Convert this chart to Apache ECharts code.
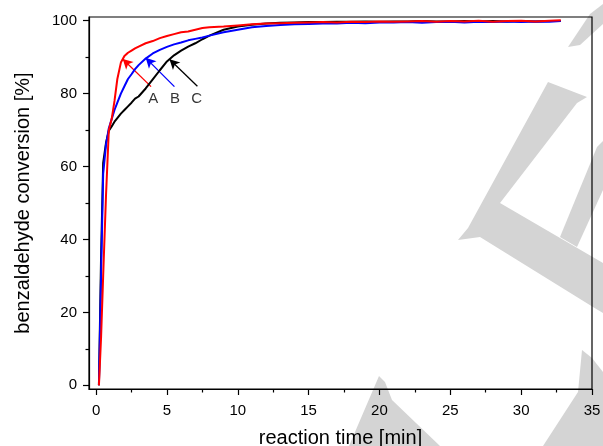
<!DOCTYPE html>
<html>
<head>
<meta charset="utf-8">
<script src="https://cdn.jsdelivr.net/npm/echarts@6/dist/echarts.min.js"></script>
<style>html,body{margin:0;padding:0;background:#fff}#c{width:603px;height:446px}</style>
</head>
<body>
<div id="c"></div>
<script>
// ---- data ----
const time = [0.2,0.35,0.5,0.7,0.9,1.1,1.3,1.5,1.75,2.0,2.25,2.5,2.75,3.0,3.5,4.0,4.5,5.0,5.5,6.0,6.5,7.0,7.5,8.0,9,10,11,12,13,14,15,16,17,18,19,20,21,22,23,24,25,26,27,28,29,30,31,32,32.8];
const seriesA = [0,13,30,52,70,73,78,84,88.5,90.3,91.2,91.8,92.4,92.9,93.8,94.4,95.2,95.8,96.3,96.8,97.0,97.5,98.0,98.2,98.4,98.7,99.0,99.2,99.3,99.4,99.5,99.6,99.5,99.7,99.6,99.8,99.7,99.8,99.9,99.7,99.9,99.8,100.0,99.7,99.9,100.0,99.8,100.0,100.1];
const seriesB = [0,30,58,66,70.5,73,75.5,77.5,80,82,84,85.3,86.7,87.8,89.6,91,92,92.8,93.5,94,94.6,95.0,95.4,95.9,96.8,97.5,98.2,98.5,98.8,99.0,99.1,99.2,99.2,99.4,99.3,99.5,99.5,99.6,99.4,99.6,99.7,99.5,99.7,99.6,99.8,99.6,99.8,99.7,99.9];
const seriesC = [0,35,61,66.5,69.8,71,72.3,73.3,74.5,75.5,76.5,77.5,78.6,79.2,81.4,83.9,86.4,88.8,90.5,91.8,92.9,93.8,94.9,95.9,97.5,98.4,98.9,99.2,99.4,99.5,99.6,99.6,99.7,99.7,99.8,99.7,99.8,99.8,99.9,99.8,99.8,99.9,99.8,99.9,99.8,99.9,99.8,99.9,99.9];
const seriesNames = ['A','B','C'];
const seriesColors = ['#ff0000','#0000ff','#000000'];
// annotation arrows: [startX, startY, tipX, tipY]
const arrows = [[3.88,81.9,1.88,89.5],[5.53,81.9,3.5,89.8],[7.15,82.0,5.18,89.4]];
const labelPos = [[4.04,78.6],[5.57,78.6],[7.1,78.6]];
const xTicks = [0,5,10,15,20,25,30,35];
const xMinorTicks = [2.5,7.5,12.5,17.5,22.5,27.5,32.5];
const yTicks = [0,20,40,60,80,100];
const yMinorTicks = [10,30,50,70,90];
const xTitle = 'reaction time [min]';
const yTitle = 'benzaldehyde conversion [%]';

const FONT = "'Liberation Sans', Arial, sans-serif";
const chart = echarts.init(document.getElementById('c'), null, {renderer:'canvas'});

const allSeries = [seriesA, seriesB, seriesC];
const zOrder = [7, 6, 5];
const series = allSeries.map((vals, i) => ({
  type: 'line',
  name: seriesNames[i],
  xAxisIndex: 0, yAxisIndex: 0,
  data: time.map((t, k) => [t, vals[k]]),
  showSymbol: false,
  symbol: 'none',
  lineStyle: {color: seriesColors[i], width: 2},
  z: zOrder[i],
  markLine: {
    silent: true,
    symbol: ['none', 'arrow'],
    symbolSize: [8, 10],
    label: {show: false},
    lineStyle: {color: seriesColors[i], width: 1.3, type: 'solid'},
    data: [[{coord: [arrows[i][0], arrows[i][1]]}, {coord: [arrows[i][2], arrows[i][3]]}]]
  }
}));

series.push({
  type: 'scatter',
  xAxisIndex: 0, yAxisIndex: 0,
  symbolSize: 0,
  silent: true,
  data: labelPos.map((p, i) => [p[0], p[1], seriesNames[i]]),
  label: {show: true, position: 'inside', formatter: p => p.value[2], color: '#000', fontSize: 15, fontFamily: FONT},
  z: 8
});

const gray = '#d4d4d4';
const layout = {left: 89, right: 11, top: 17, bottom: 57, containLabel: false, outerBoundsMode: 'none'};
const option = {
  animation: false,
  backgroundColor: '#fff',
  textStyle: {fontFamily: FONT},
  graphic: [
    {type:'polygon', z:-100, shape:{points:[[548,82],[587,97],[577,103],[500,203],[603,263],[603,313],[593,307],[480,237],[458,240],[468,228]]}, style:{fill:gray}},
    {type:'polygon', z:-100, shape:{points:[[597,147],[603,141],[603,190],[577,247],[560,237]]}, style:{fill:gray}},
    {type:'polygon', z:-100, shape:{points:[[590,14],[603,4],[603,24],[580,45],[568,47]]}, style:{fill:gray}},
    {type:'polygon', z:-100, shape:{points:[[379,376],[385,382],[392,400],[440,446],[349,446]]}, style:{fill:gray}},
    {type:'polygon', z:-100, shape:{points:[[582,350],[592,358],[603,372],[603,446],[543,446],[578,392]]}, style:{fill:gray}}
  ],
  grid: [
    Object.assign({show: true, borderColor: '#000', borderWidth: 1.2, backgroundColor: 'transparent'}, layout),
    Object.assign({show: false}, layout)
  ],
  xAxis: [{
    gridIndex: 0, type: 'value', min: -0.5, max: 35, position: 'bottom',
    name: xTitle, nameLocation: 'middle', nameGap: 39,
    nameTextStyle: {fontSize: 20, color: '#000', fontFamily: FONT},
    axisLine: {show: true, onZero: false, lineStyle: {color: '#000', width: 1.2}},
    axisTick: {show: true, inside: false, length: 6, lineStyle: {color: '#000', width: 1.2}, customValues: xTicks},
    axisLabel: {show: true, margin: 14, fontSize: 15, color: '#000', fontFamily: FONT, customValues: xTicks, formatter: v => String(v)},
    splitLine: {show: false}
  }, {
    gridIndex: 1, type: 'value', min: -0.5, max: 35, position: 'bottom',
    axisLine: {show: false, onZero: false},
    axisTick: {show: true, inside: false, length: 3.5, lineStyle: {color: '#000', width: 1.2}, customValues: xMinorTicks},
    axisLabel: {show: false},
    splitLine: {show: false}
  }],
  yAxis: [{
    gridIndex: 0, type: 'value', min: -1, max: 101, position: 'left',
    name: yTitle, nameLocation: 'middle', nameGap: 56, nameRotate: 90,
    nameTextStyle: {fontSize: 20, color: '#000', fontFamily: FONT},
    axisLine: {show: true, onZero: false, lineStyle: {color: '#000', width: 1.2}},
    axisTick: {show: true, inside: false, length: 6, lineStyle: {color: '#000', width: 1.2}, customValues: yTicks},
    axisLabel: {show: true, margin: 12, fontSize: 15, color: '#000', fontFamily: FONT, customValues: yTicks, formatter: v => String(v)},
    splitLine: {show: false}
  }, {
    gridIndex: 1, type: 'value', min: -1, max: 101, position: 'left',
    axisLine: {show: false, onZero: false},
    axisTick: {show: true, inside: false, length: 3.5, lineStyle: {color: '#000', width: 1.2}, customValues: yMinorTicks},
    axisLabel: {show: false},
    splitLine: {show: false}
  }],
  series: series
};
chart.setOption(option);
</script>
</body>
</html>
